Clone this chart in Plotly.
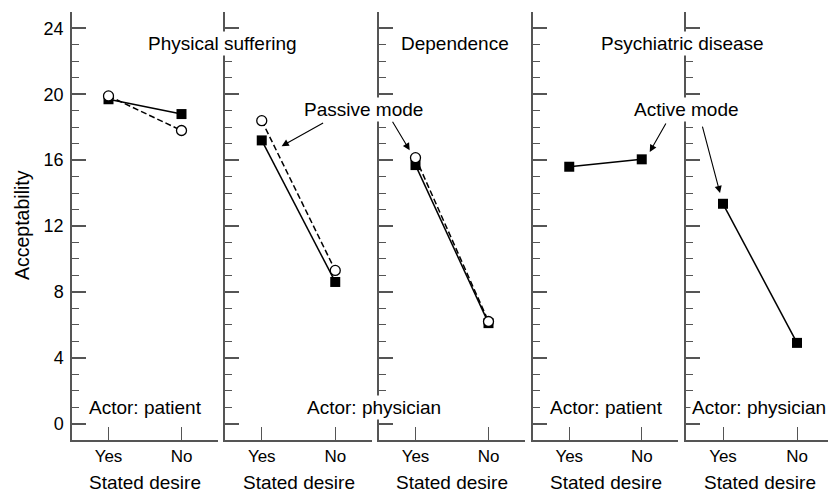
import plotly.graph_objects as go

# ---- data ----
desire = ["Yes", "No"]
panel_titles = ["Physical suffering", "Dependence", "Psychiatric disease"]
actors = ["Actor: patient", "Actor: physician", "Actor: patient", "Actor: physician"]
y_ticks = [0, 4, 8, 12, 16, 20, 24]

# active mode (filled squares), per panel: [Yes, No]
active_p1 = [19.7, 18.8]
active_p2 = [17.2, 8.6]
active_p3 = [15.7, 6.1]
active_p4 = [15.6, 16.05]
active_p5 = [13.35, 4.9]
# passive mode (open circles, dashed), per panel: [Yes, No]
passive_p1 = [19.9, 17.8]
passive_p2 = [18.4, 9.3]
passive_p3 = [16.15, 6.2]

active = [active_p1, active_p2, active_p3, active_p4, active_p5]
passive = [passive_p1, passive_p2, passive_p3, None, None]

W, H = 828, 492
FONT = "Liberation Sans"
FS = 19
AX = "#555555"

# panel pixel extents (left, right)
panels_px = [(72, 218), (225, 372), (379, 525), (533, 678), (686, 828)]
y_top, y_bot = 12, 440

def px(x):
    return x / W

def py(y):
    return 1 - y / H

fig = go.Figure()
xs = [0, 1]
for i in range(5):
    n = "" if i == 0 else str(i + 1)
    fig.add_trace(go.Scatter(
        x=xs, y=active[i], xaxis="x" + n, yaxis="y" + n, mode="lines+markers",
        line=dict(color="black", width=1.5),
        marker=dict(symbol="square", size=10, color="black"),
        showlegend=False, hoverinfo="skip"))
    if passive[i] is not None:
        fig.add_trace(go.Scatter(
            x=xs, y=passive[i], xaxis="x" + n, yaxis="y" + n, mode="lines+markers",
            line=dict(color="black", width=1.5, dash="6px,3px"),
            marker=dict(symbol="circle", size=10, color="white",
                        line=dict(color="black", width=1.3)),
            showlegend=False, hoverinfo="skip"))

layout = dict(width=W, height=H, margin=dict(l=0, r=0, t=0, b=0),
              paper_bgcolor="white", plot_bgcolor="white",
              font=dict(family=FONT, size=FS, color="black"))

for i, (l, r) in enumerate(panels_px):
    n = "" if i == 0 else str(i + 1)
    xr = [-0.5, 1.5] if i < 4 else [-0.5, -0.5 + (r - l) / 74.0]
    layout["xaxis" + n] = dict(
        domain=[px(l), px(r)], range=xr, anchor="y" + n,
        tickvals=xs, ticktext=desire, ticks="inside", ticklen=13,
        tickcolor=AX, tickwidth=1.2, showline=True, linecolor=AX, linewidth=1.5,
        showgrid=False, zeroline=False, ticklabelstandoff=0,
        tickfont=dict(family=FONT, size=FS - 2))
    layout["yaxis" + n] = dict(
        domain=[py(y_bot), py(y_top)], range=[-1, 25], anchor="x" + n,
        tickvals=y_ticks, ticks="inside", ticklen=14, tickcolor=AX, tickwidth=1.5,
        showline=True, linecolor=AX, linewidth=1.5, showgrid=False, zeroline=False,
        showticklabels=(i == 0), ticklabelstandoff=3,
        tickfont=dict(family=FONT, size=FS - 1),
        minor=dict(dtick=1, tick0=0, ticks="inside", ticklen=7, tickcolor=AX,
                   tickwidth=1.2, showgrid=False))

fig.update_layout(**layout)

ann = []
def txt(text, x, y, size=FS):
    ann.append(dict(text=text, x=px(x), y=py(y), xref="paper", yref="paper",
                    showarrow=False, bgcolor="white", borderpad=1,
                    font=dict(family=FONT, size=size, color="black"),
                    xanchor="center", yanchor="middle"))

txt(panel_titles[0], 222, 43)
txt(panel_titles[1], 455, 43)
txt(panel_titles[2], 682, 43)
txt(actors[0], 145, 407)
txt(actors[1], 374, 407)
txt(actors[2], 606, 407)
txt(actors[3], 759, 407)
txt("Passive mode", 363, 109)
txt("Active mode", 686, 109)

for i in range(5):
    n = "" if i == 0 else str(i + 1)
    ann.append(dict(text="Stated desire", x=0.5, xref="x" + n, y=py(482), yref="paper",
                    showarrow=False, font=dict(family=FONT, size=FS, color="black"),
                    xanchor="center", yanchor="middle"))

ann.append(dict(text="Acceptability", x=px(22), y=py(225), xref="paper", yref="paper",
                showarrow=False, textangle=-90, font=dict(family=FONT, size=19.5),
                xanchor="center", yanchor="middle"))

# arrows: head in data coords of the panel, tail as pixel offset
arrows = [("x2", "y2", 0.27, 16.85, 43, -24),
          ("x3", "y3", -0.08, 16.6, -18, -30),
          ("x4", "y4", 1.11, 16.5, 17, -30),
          ("x5", "y5", -0.04, 14.0, -18, -68)]
for xa, ya, hx, hy, axo, ayo in arrows:
    ann.append(dict(text="", x=hx, y=hy, xref=xa, yref=ya, showarrow=True,
                    ax=axo, ay=ayo, arrowhead=2, arrowsize=1.3, arrowwidth=1.1,
                    arrowcolor="black", standoff=0, startstandoff=0))

fig.update_layout(annotations=ann)
fig.write_html("out.html", config={"displayModeBar": False},
               post_script="document.body.style.margin='0';document.body.style.overflow='hidden';")
